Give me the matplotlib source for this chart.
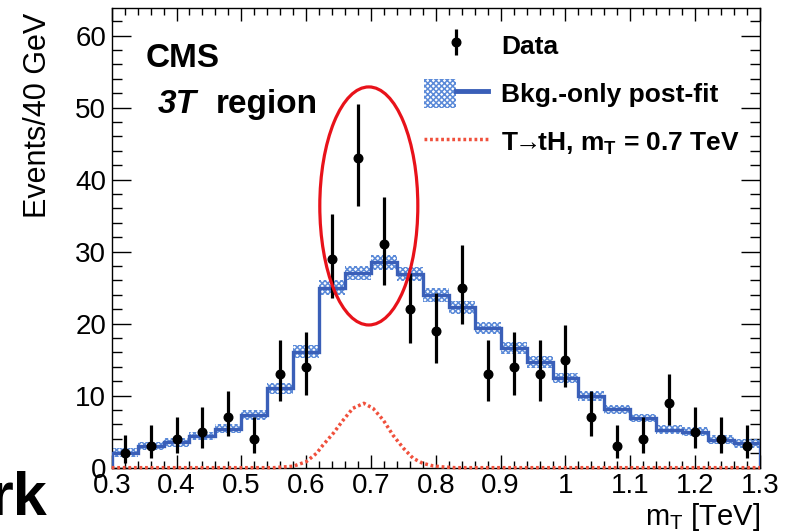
import numpy as np
import matplotlib
matplotlib.use("Agg")
import matplotlib.pyplot as plt
from matplotlib.patches import Ellipse, Patch
from matplotlib.lines import Line2D
from matplotlib.legend_handler import HandlerTuple
from matplotlib.ticker import MultipleLocator, FuncFormatter

plt.rcParams['font.family'] = ['Liberation Sans', 'DejaVu Sans']
plt.rcParams['mathtext.fontset'] = 'custom'
plt.rcParams['mathtext.rm'] = 'Liberation Sans'
plt.rcParams['mathtext.bf'] = 'Liberation Sans:bold'
plt.rcParams['mathtext.it'] = 'Liberation Sans:italic'
plt.rcParams['hatch.linewidth'] = 1.1

# binning: 40 GeV bins from 0.3 to 1.3 TeV
edges = np.linspace(0.3, 1.3, 26)
centers = 0.5 * (edges[:-1] + edges[1:])

data = [2, 3, 4, 5, 7, 4, 13, 14, 29, 43, 31, 22, 19, 25, 13, 14, 13, 15, 7, 3, 4, 9, 5, 4, 3]
data_lo = [0.6, 1.3, 2.0, 2.7, 4.4, 2.0, 9.3, 10.1, 23.5, 36.3, 25.4, 17.3, 14.6, 19.9,
           9.3, 10.1, 9.3, 11.2, 4.4, 1.3, 2.0, 5.9, 2.7, 2.0, 1.3]
data_hi = [4.5, 5.9, 7.1, 8.4, 10.7, 7.1, 17.7, 18.8, 35.3, 50.5, 37.6, 27.0, 24.3, 30.9,
           17.7, 18.8, 17.7, 19.8, 10.7, 5.9, 7.1, 13.0, 8.4, 7.1, 5.9]

bkg = [2.1, 3.0, 3.5, 4.4, 5.4, 7.3, 11.0, 16.1, 25.0, 27.0, 28.5, 26.9, 24.0, 22.3,
       19.4, 16.6, 14.7, 12.4, 9.9, 8.1, 6.9, 5.3, 5.0, 3.9, 3.4]
bkg_unc = [0.6, 0.6, 0.6, 0.6, 0.6, 0.7, 0.8, 0.9, 1.0, 1.0, 1.0, 1.0, 1.0, 0.9,
           0.9, 0.8, 0.8, 0.7, 0.7, 0.6, 0.6, 0.6, 0.6, 0.6, 0.6]

sig_x = [0.30, 0.55, 0.58, 0.600, 0.616, 0.626, 0.642, 0.657, 0.672, 0.689, 0.703,
         0.719, 0.734, 0.750, 0.765, 0.780, 0.796, 0.811, 0.83, 1.30]
sig_y = [0.0, 0.0, 0.2, 0.83, 2.0, 3.15, 4.8, 6.6, 8.25, 8.94, 8.25,
         6.6, 4.5, 2.7, 1.3, 0.6, 0.24, 0.1, 0.0, 0.0]

BLUE = '#3a5fb8'
HATCH = '#5b8ad8'
RED = '#f0503c'
HPAT = 'xxxxxx'

fig = plt.figure(figsize=(7.9, 5.32), dpi=100)
ax = fig.add_axes([0.1414, 0.1209, 0.8206, 0.8635])

bkg = np.array(bkg)
unc = np.array(bkg_unc)
lo = np.append(bkg - unc, bkg[-1] - unc[-1])
hi = np.append(bkg + unc, bkg[-1] + unc[-1])
ax.fill_between(edges, lo, hi, step='post', facecolor='none', edgecolor=HATCH,
                hatch=HPAT, linewidth=0, zorder=2)
ax.stairs(bkg, edges, color=BLUE, linewidth=2.4, baseline=0, zorder=3)

ax.plot(sig_x, sig_y, color=RED, linestyle=(0, (0.8, 0.8)), linewidth=2.5,
        zorder=3, clip_on=False)

data = np.array(data)
yerr = [data - np.array(data_lo), np.array(data_hi) - data]
eb = ax.errorbar(centers, data, yerr=yerr, fmt='o', color='black', markersize=6.2,
                 elinewidth=2.3, capsize=0, zorder=5)

ell = Ellipse((0.6966, 36.35), 0.1512, 33.06, fill=False, edgecolor='#e8121a',
              linewidth=2.3, zorder=6)
ax.add_patch(ell)

ax.set_xlim(0.3, 1.3)
ax.set_ylim(0, 63.8)
ax.xaxis.set_major_locator(MultipleLocator(0.1))
ax.xaxis.set_minor_locator(MultipleLocator(0.02))
ax.yaxis.set_major_locator(MultipleLocator(10))
ax.yaxis.set_minor_locator(MultipleLocator(2))
ax.xaxis.set_major_formatter(FuncFormatter(lambda v, p: '%g' % round(v, 2)))
ax.tick_params(which='both', direction='in', top=True, right=True, labelsize=20,
               width=1.0, pad=4)
ax.tick_params(axis='x', which='major', length=9.6)
ax.tick_params(axis='x', which='minor', length=5)
ax.tick_params(axis='y', which='major', length=13.5)
ax.tick_params(axis='y', which='minor', length=7.5)
for s in ax.spines.values():
    s.set_linewidth(1.0)

ax.set_ylabel('Events/40 GeV', fontsize=22, ha='right', va='center')
ax.yaxis.set_label_coords(-0.113, 0.99)
ax.set_xlabel(r'm$_\mathrm{T}$ [TeV]', fontsize=21, ha='right', va='bottom')
ax.xaxis.set_label_coords(1.0, -0.142)

# CMS label
fig.text(146 / 790, 1 - 67 / 532, 'CMS', fontsize=24, fontweight='bold', va='baseline')
fig.text(158 / 790, 1 - 113 / 532, '3T', fontsize=24, fontweight='bold',
         style='italic', va='baseline')
fig.text(216 / 790, 1 - 113 / 532, 'region', fontsize=24, fontweight='bold', va='baseline')

# cropped leftover text
fig.text(48 / 790, 1 - 515 / 532, 'rk', fontsize=44, fontweight='bold',
         ha='right', va='baseline')

handles = [
    eb,
    (Patch(facecolor='none', edgecolor=HATCH, hatch=HPAT, linewidth=0),
     Line2D([], [], color=BLUE, linewidth=3.5)),
    Line2D([], [], color=RED, linestyle=(0, (0.8, 0.8)), linewidth=2.5),
]
labels = ['Data', 'Bkg.-only post-fit',
          r'T$\!\!\rightarrow\!\!$tH, m$_\mathbf{T}$ = 0.7 TeV']
leg = ax.legend(handles, labels, loc='upper left', bbox_to_anchor=(0.466, 0.975),
                frameon=False, prop={'size': 19, 'weight': 'bold'},
                handlelength=2.4, handleheight=1.3, handletextpad=0.5,
                labelspacing=0.75, borderaxespad=0,
                handler_map={tuple: HandlerTuple(ndivide=None, pad=0)})

fig.savefig('out.png', dpi=100)
